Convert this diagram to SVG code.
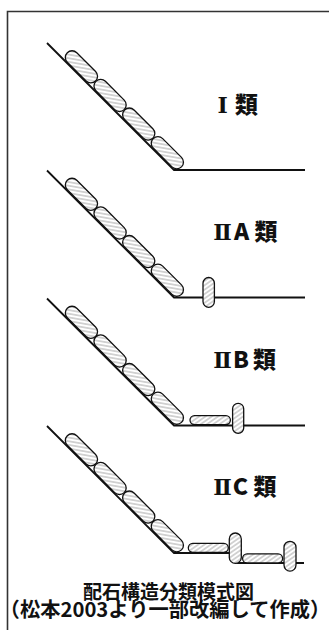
<svg xmlns="http://www.w3.org/2000/svg" xmlns:xlink="http://www.w3.org/1999/xlink" width="329" height="630" viewBox="0 0 329 630">
  <style>
    .ground { fill: none; stroke: #111; stroke-width: 1.8; stroke-linejoin: miter; }
    .stone { fill: url(#hatch); stroke: #111; stroke-width: 1.3; }
    .frame { fill: none; stroke: #333; stroke-width: 1.6; }
    .label { font-family: "Noto Sans CJK JP", "Noto Sans", sans-serif; font-size: 23px; font-weight: 900; fill: #111; text-anchor: middle; }
    .num { font-family: "DejaVu Serif", "Noto Sans CJK JP", serif; font-weight: 700; font-size: 22px; }
    .caption { font-family: "Noto Sans CJK JP", "Noto Sans", sans-serif; font-weight: 700; fill: #111; text-anchor: middle; }
  </style>
  <defs>
    <!-- diagonal hatching for stones, follows each stone's own axis -->
    <pattern id="hatch" patternUnits="userSpaceOnUse" width="6" height="3.6" patternTransform="rotate(-35)">
      <rect x="-1" y="-1" width="8" height="6" fill="#fff"/>
      <path d="M-1,1.8 H7" stroke="#8f8f8f" stroke-width="0.8"/>
    </pattern>
    <!-- four stones laid along the slope; origin at the foot of the slope -->
    <g id="slope-stones" transform="rotate(45)">
      <rect class="stone" x="-158.4" y="-14.2" width="40" height="13.4" rx="6.7"/>
      <rect class="stone" x="-117.9" y="-14.2" width="40" height="13.4" rx="6.7"/>
      <rect class="stone" x="-77.4" y="-14.2" width="40" height="13.4" rx="6.7"/>
      <rect class="stone" x="-36.9" y="-14.2" width="40" height="13.4" rx="6.7"/>
    </g>
  </defs>

  <!-- frame -->
  <path class="frame" d="M7.5,630 V11.5 H329"/>

  <!-- type I -->
  <g id="type-1">
    <path class="ground" d="M47,43 L174,170 L305,170"/>
    <use xlink:href="#slope-stones" x="174" y="170"/>
    <text class="label" y="112.5"><tspan class="num" x="222.7">Ⅰ</tspan><tspan x="246.5">類</tspan></text>
  </g>

  <!-- type IIA -->
  <g id="type-2a">
    <path class="ground" d="M47,170.5 L174,297.5 L305,297.5"/>
    <use xlink:href="#slope-stones" x="174" y="297.5"/>
    <rect class="stone" x="203" y="277.5" width="11.4" height="29.8" rx="5.7"/>
    <text class="label" y="240"><tspan class="num" x="222.5">Ⅱ</tspan><tspan x="241.5">A</tspan><tspan x="266">類</tspan></text>
  </g>

  <!-- type IIB -->
  <g id="type-2b">
    <path class="ground" d="M47,298.5 L174,425.5 L305,425.5"/>
    <use xlink:href="#slope-stones" x="174" y="425.5"/>
    <rect class="stone" x="190" y="415.6" width="40.4" height="9" rx="4.5"/>
    <rect class="stone" x="232.6" y="403.3" width="11.1" height="30.1" rx="5.5"/>
    <text class="label" y="367.5"><tspan class="num" x="222.5">Ⅱ</tspan><tspan x="241">B</tspan><tspan x="264.5">類</tspan></text>
  </g>

  <!-- type IIC -->
  <g id="type-2c">
    <path class="ground" d="M47,426 L174,553 L236,553 L236,563 L304,563"/>
    <use xlink:href="#slope-stones" x="174" y="553"/>
    <rect class="stone" x="188.3" y="543.3" width="40" height="9" rx="4.5"/>
    <rect class="stone" x="229.3" y="533" width="12" height="30.4" rx="6"/>
    <rect class="stone" x="242.6" y="553.9" width="40" height="9" rx="4.5"/>
    <rect class="stone" x="284" y="541.3" width="12" height="29.8" rx="6"/>
    <text class="label" y="495"><tspan class="num" x="222.5">Ⅱ</tspan><tspan x="240.5">C</tspan><tspan x="265">類</tspan></text>
  </g>

  <!-- caption -->
  <g id="caption">
    <text class="caption" x="168.5" y="598.5" font-size="19">配石構造分類模式図</text>
    <text class="caption" x="165" y="617" font-size="20.3">（松本2003より一部改編して作成）</text>
  </g>
</svg>
